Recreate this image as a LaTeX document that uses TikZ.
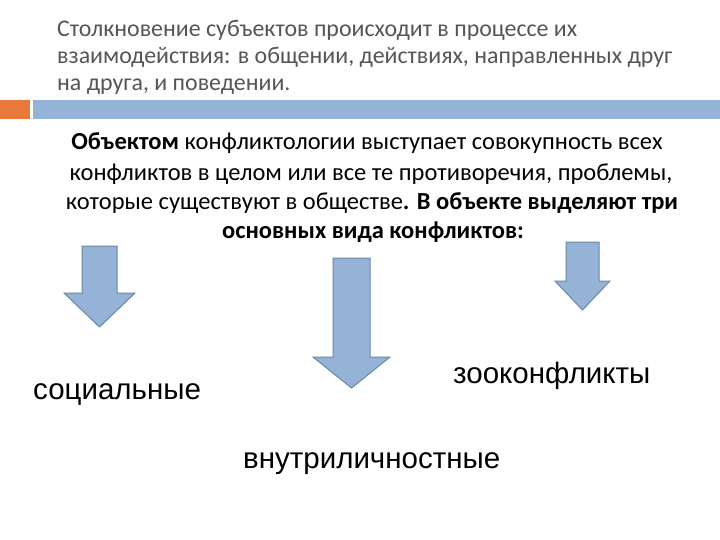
\documentclass[tikz,border=0pt]{standalone}
\usepackage{fontspec}
\setmainfont{Carlito}
\newfontfamily\labfont{Liberation Sans}
\definecolor{barblue}{HTML}{94B3D6}
\definecolor{barorange}{HTML}{E8793A}
\definecolor{arrfill}{HTML}{95B3D7}
\definecolor{arrline}{HTML}{6A86A8}
\definecolor{titlegray}{HTML}{555555}
\begin{document}
\begin{tikzpicture}[x=1pt,y=-1pt,
  titletext/.style={anchor=base west,inner sep=0pt,text=titlegray,font=\fontsize{23.9}{27}\selectfont},
  bodytext/.style={anchor=base,inner sep=0pt,text=black,font=\fontsize{24.5}{28}\selectfont},
  labeltext/.style={anchor=base west,inner sep=0pt,text=black,font=\labfont\fontsize{29.5}{33}\selectfont},
  downarrow/.style={fill=arrfill,draw=arrline,line width=1pt,line join=miter}]
\useasboundingbox (0,0) rectangle (720,540);
\fill[white] (0,0) rectangle (720,540);
% title
\node[titletext] (t1) at (57,37) {Столкновение субъектов происходит в процессе их};
\node[titletext] (t2) at (57,64) {взаимодействия: в общении, действиях, направленных друг};
\node[titletext] (t3) at (57,91) {на друга, и поведении.};
% bars
\fill[barorange] (0,100) rectangle (30,119);
\fill[barblue] (33,100) rectangle (720,119);
% body
\node[bodytext] (b1) at (367,150) {\textbf{Объектом} конфликтологии выступает совокупность всех};
\node[bodytext] (b2) at (371,181) {конфликтов в целом или все те противоречия, проблемы,};
\node[bodytext] (b3) at (372,210) {которые существуют в обществе\textbf{. В объекте выделяют три}};
\node[bodytext] (b4) at (373,238) {\textbf{основных вида конфликтов:}};
% arrows
\draw[downarrow] (82,246) -- (117,246) -- (117,293) -- (135,293) -- (99.5,327) -- (64,293) -- (82,293) -- cycle;
\draw[downarrow] (333,258) -- (370,258) -- (370,357) -- (390,357) -- (351.5,388) -- (313,357) -- (333,357) -- cycle;
\draw[downarrow] (566,242) -- (599,242) -- (599,281) -- (610,281) -- (582.5,310) -- (555,281) -- (566,281) -- cycle;
% labels
\node[labeltext] (l1) at (33,399) {социальные};
\node[labeltext] (l2) at (453,383) {зооконфликты};
\node[labeltext] (l3) at (243,468) {внутриличностные};
\end{tikzpicture}
\end{document}
